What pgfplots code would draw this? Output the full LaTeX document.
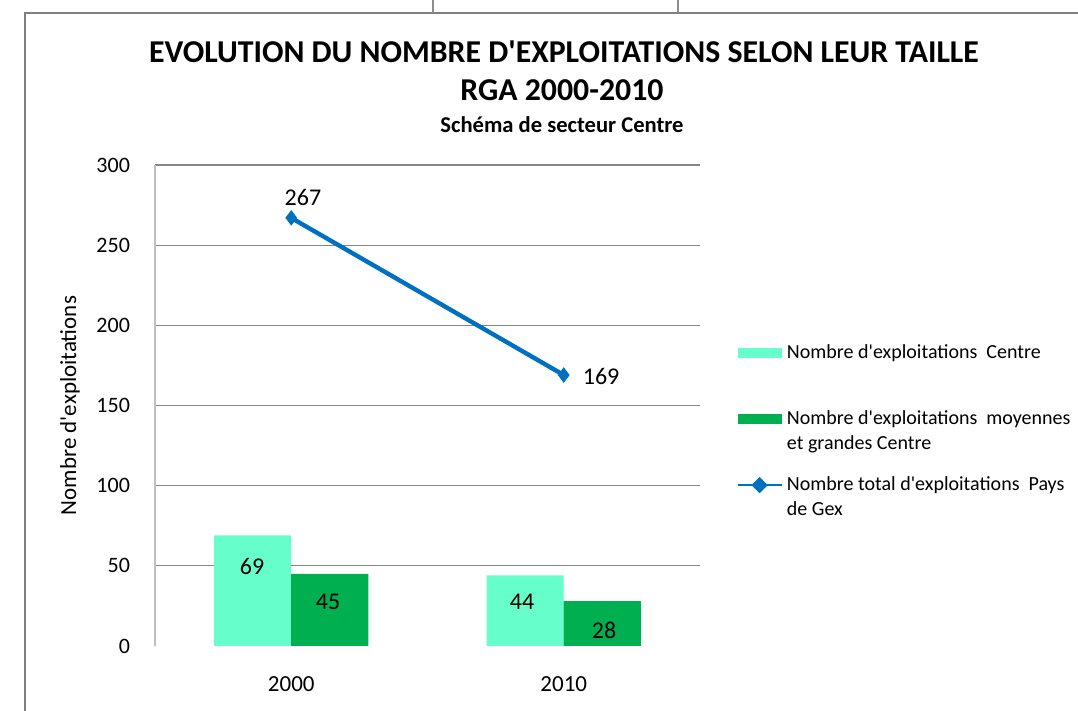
\documentclass[border=0pt]{standalone}
\usepackage{pgfplots}
\pgfplotsset{compat=1.18}
\usepackage{fontspec}
\setmainfont{Carlito}
\newcommand\q{\textquotesingle}
\definecolor{lightbar}{HTML}{66FFCC}
\definecolor{darkbar}{HTML}{00B050}
\definecolor{lineblue}{HTML}{0070C0}
\definecolor{gridgray}{HTML}{868686}
\definecolor{framegray}{HTML}{7F7F7F}
\begin{document}
\begin{tikzpicture}[x=0.5pt,y=0.5pt]
\useasboundingbox (0,0) rectangle (1078,711);
\begin{scope}
  \clip (0,0) rectangle (1078,711);
  \draw[framegray, line width=1pt] (25,-10) -- (25,698) -- (1090,698);
  \draw[black!45, line width=0.6pt] (433,698) -- (433,715) (678,698) -- (678,715);
\end{scope}
\node[font=\bfseries\fontsize{15.9}{18}\selectfont] at (564,659) {EVOLUTION DU NOMBRE D\q EXPLOITATIONS SELON LEUR TAILLE};
\node[font=\bfseries\fontsize{15.9}{18}\selectfont] at (562,621) {RGA 2000-2010};
\node[font=\bfseries\fontsize{11.3}{13}\selectfont] at (562,586) {Schéma de secteur Centre};
\begin{axis}[
  at={(77.5pt,32.5pt)}, anchor=south west, scale only axis,
  width=272.5pt, height=240.5pt,
  font=\fontsize{11}{13}\selectfont,
  /pgf/number format/assume math mode=true,
  xmin=-0.5, xmax=1.5, ymin=0, ymax=300,
  xtick={0,1}, xticklabels={2000,2010},
  ytick={50,100,...,300},
  extra y ticks={0}, extra y tick style={grid=none},
  ymajorgrids, grid style={gridgray, line width=0.6pt},
  axis lines*=left,
  x axis line style={draw=none},
  y axis line style={draw=black!25, line width=0.8pt},
  major tick length=0pt,
  xticklabel style={yshift=-12pt, font=\fontsize{11.5}{13}\selectfont},
  yticklabel style={xshift=-9pt},
  ylabel={Nombre d\q exploitations},
  y label style={at={(axis description cs:-0.156,0.5)}, anchor=center,
    font=\fontsize{11.5}{13}\selectfont},
  legend style={at={(axis description cs:1.066,0.635)}, anchor=north west,
    draw=none, fill=none, inner sep=0pt, row sep=8pt,
    cells={anchor=west, align=left}, font=\fontsize{10}{12.5}\selectfont},
]
\addplot[ybar, bar width=0.2826, bar shift=-0.1413, fill=lightbar, draw=none,
  legend image code/.code={\fill[lightbar] (0pt,3.75pt) rectangle (22pt,8.75pt);}]
  coordinates {(0,69) (1,44)};
\addlegendentry{Nombre d\q exploitations\ \ Centre\\\strut}
\addplot[ybar, bar width=0.2826, bar shift=0.1413, fill=darkbar, draw=none,
  legend image code/.code={\fill[darkbar] (0pt,3.75pt) rectangle (22pt,8.75pt);}]
  coordinates {(0,45) (1,28)};
\addlegendentry{Nombre d\q exploitations\ \ moyennes\\et grandes Centre}
\addplot[lineblue, line width=2.2pt, mark=diamond*, mark size=3.5pt,
  mark options={fill=lineblue, line width=0.5pt},
  legend image code/.code={\draw[lineblue, line width=1.3pt] (0pt,6.25pt) -- (22pt,6.25pt);
    \fill[lineblue] (11pt,6.25pt) ++(-2.5pt,0pt) -- ++(2.5pt,2.5pt) -- ++(2.5pt,-2.5pt) -- ++(-2.5pt,-2.5pt) -- cycle;}]
  coordinates {(0,267) (1,169)};
\addlegendentry{Nombre total d\q exploitations\ \ Pays\\de Gex}
\begin{scope}[font=\fontsize{12}{14}\selectfont]
\node at (axis cs:-0.144,49.3) {69};
\node at (axis cs:0.135,27.4) {45};
\node at (axis cs:0.847,27.4) {44};
\node at (axis cs:1.148,10) {28};
\node at (axis cs:0.043,280) {267};
\node at (axis cs:1.137,168.4) {169};
\end{scope}
\end{axis}
\end{tikzpicture}
\end{document}
